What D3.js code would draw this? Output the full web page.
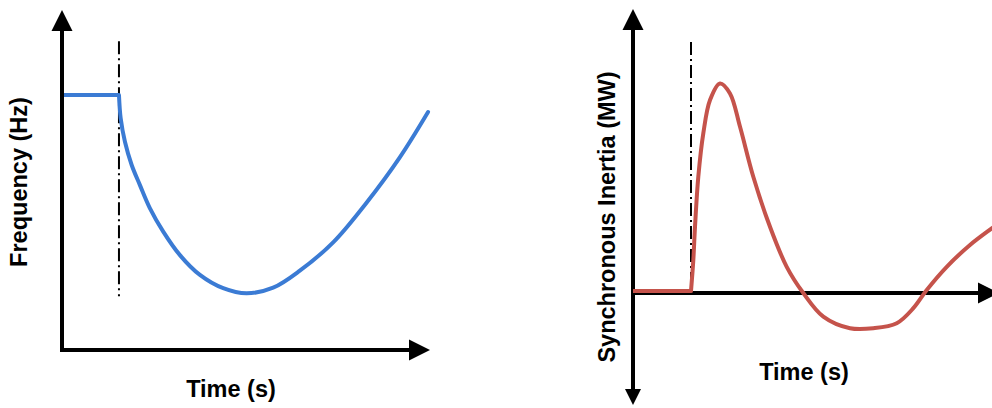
<!DOCTYPE html>
<html>
<head>
<meta charset="utf-8">
<script src="https://cdn.jsdelivr.net/npm/d3@7"></script>
<style>
  html, body { margin: 0; padding: 0; background: #fff; }
  svg { display: block; }
  text { font-family: "Liberation Sans", Arial, sans-serif; font-weight: bold; fill: #000; }
</style>
</head>
<body>
<svg id="chart" width="992" height="408"></svg>
<script>
// ---- Data ----
// Left panel: frequency (Hz) vs time (s)
const eventTime = 1.0;
const freqPre = [ [0, 50.0], [1.0, 50.0] ];
const freqTime = [1.0, 1.03, 1.105, 1.223, 1.368, 1.544, 1.777, 2.07, 2.421, 2.83, 3.24, 3.707, 4.175, 4.76, 5.346, 5.93, 6.426];
const freqVals = [50.0, 49.918, 49.835, 49.753, 49.682, 49.600, 49.518, 49.435, 49.365, 49.318, 49.300, 49.32, 49.38, 49.48, 49.62, 49.78, 49.94];
const freqDomainX = [0, 6.46];
const freqDomainY = [49.1, 50.3];
const freqEventSpan = [49.29, 50.19];

// Right panel: synchronous inertia (MW) vs time (s)
const inertiaPre = [ [0, 10], [1.0, 10] ];
const inertiaTime = [1.0, 1.04, 1.069, 1.126, 1.212, 1.328, 1.5, 1.672, 1.845, 2.074, 2.362, 2.65, 2.936, 3.281, 3.741, 4.143, 4.547, 4.833, 5.064, 5.409, 5.81, 6.184, 6.35];
const inertiaVals = [10, 165, 331, 581, 798, 965, 1048, 998, 831, 581, 331, 131, 0, -118, -176, -176, -151, -76, 15, 131, 240, 323, 358];
const inertiaDomainX = [0, 6.31];
const inertiaDomainY = [-560, 1420];
const inertiaEventSpan = [0, 1255];

const labels = {
  freqY: "Frequency (Hz)",
  inertiaY: "Synchronous Inertia (MW)",
  time: "Time (s)"
};

const blue = "#3b7bd4";
const red = "#c5534b";

const svg = d3.select("#chart");

function arrow(g, tipX, tipY, dir, len, half) {
  let pts;
  if (dir === "up") pts = [[tipX, tipY], [tipX - half, tipY + len], [tipX + half, tipY + len]];
  else if (dir === "down") pts = [[tipX, tipY], [tipX - half, tipY - len], [tipX + half, tipY - len]];
  else pts = [[tipX, tipY], [tipX - len, tipY - half], [tipX - len, tipY + half]];
  g.append("path").attr("d", "M" + pts.map(p => p.join(",")).join("L") + "Z").attr("fill", "#000");
}

// ---- Left panel ----
{
  const x = d3.scaleLinear().domain(freqDomainX).range([62, 430]);
  const y = d3.scaleLinear().domain(freqDomainY).range([350, 10]);
  const g = svg.append("g");
  const x0 = x(0), y0 = y(freqDomainY[0]);
  const xEnd = x(freqDomainX[1]), yEnd = y(freqDomainY[1]);
  const L = 21, H = 10.5;

  g.append("line")
    .attr("x1", x(eventTime)).attr("x2", x(eventTime))
    .attr("y1", y(freqEventSpan[1])).attr("y2", y(freqEventSpan[0]))
    .attr("stroke", "#000").attr("stroke-width", 2)
    .attr("stroke-dasharray", "13,4,2,4");

  const line = d3.line().x(d => x(d[0])).y(d => y(d[1]));
  g.append("path").datum(freqPre).attr("d", line)
    .attr("fill", "none").attr("stroke", blue).attr("stroke-width", 4);
  g.append("path").datum(freqTime.map((t, i) => [t, freqVals[i]]))
    .attr("d", line.curve(d3.curveCatmullRom.alpha(0.5)))
    .attr("fill", "none").attr("stroke", blue).attr("stroke-width", 4).attr("stroke-linecap", "round");

  g.append("path")
    .attr("d", `M${x0},${yEnd + L}V${y0}H${xEnd - L}`)
    .attr("fill", "none").attr("stroke", "#000").attr("stroke-width", 4).attr("stroke-linejoin", "miter");
  arrow(g, x0, yEnd, "up", L, H);
  arrow(g, xEnd, y0, "right", L, H);

  g.append("text").text(labels.time)
    .attr("x", 231).attr("y", 396.5).attr("text-anchor", "middle").style("font-size", "23.5px");
  g.append("text").text(labels.freqY)
    .attr("transform", "translate(27,182) rotate(-90)").attr("text-anchor", "middle").style("font-size", "23.5px");
}

// ---- Right panel ----
{
  const x = d3.scaleLinear().domain(inertiaDomainX).range([633, 999]);
  const y = d3.scaleLinear().domain(inertiaDomainY).range([405, 9]);
  const g = svg.append("g");
  const x0 = x(0), yZero = y(0);
  const xEnd = x(inertiaDomainX[1]);
  const yTop = y(inertiaDomainY[1]), yBot = y(inertiaDomainY[0]);
  const L = 21, H = 10.5;

  g.append("line")
    .attr("x1", x(eventTime)).attr("x2", x(eventTime))
    .attr("y1", y(inertiaEventSpan[1])).attr("y2", y(inertiaEventSpan[0]))
    .attr("stroke", "#000").attr("stroke-width", 2)
    .attr("stroke-dasharray", "13,4,2,4");

  g.append("line").attr("x1", x0).attr("x2", x0).attr("y1", yTop + L).attr("y2", yBot - 15)
    .attr("stroke", "#000").attr("stroke-width", 4);
  g.append("line").attr("x1", x0).attr("x2", xEnd - L).attr("y1", yZero).attr("y2", yZero)
    .attr("stroke", "#000").attr("stroke-width", 4);
  arrow(g, x0, yTop, "up", L, H);
  arrow(g, x0, yBot, "down", 16, 8);
  arrow(g, xEnd, yZero, "right", L, H);

  const line = d3.line().x(d => x(d[0])).y(d => y(d[1]));
  g.append("path").datum(inertiaPre).attr("d", line)
    .attr("fill", "none").attr("stroke", red).attr("stroke-width", 4);
  g.append("path").datum(inertiaTime.map((t, i) => [t, inertiaVals[i]]))
    .attr("d", line.curve(d3.curveCatmullRom.alpha(0.5)))
    .attr("fill", "none").attr("stroke", red).attr("stroke-width", 4).attr("stroke-linecap", "round");

  g.append("text").text(labels.time)
    .attr("x", 804).attr("y", 380).attr("text-anchor", "middle").style("font-size", "23.5px");
  g.append("text").text(labels.inertiaY)
    .attr("transform", "translate(615,217) rotate(-90)").attr("text-anchor", "middle").style("font-size", "23.5px");
}
</script>
</body>
</html>
